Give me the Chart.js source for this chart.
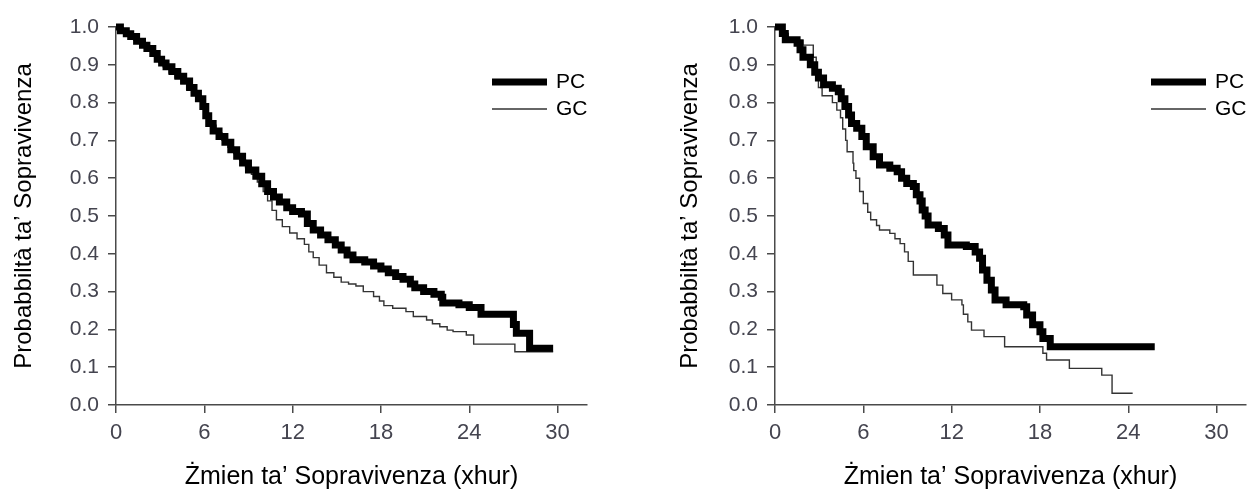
<!DOCTYPE html>
<html>
<head>
<meta charset="utf-8">
<title>Probabbiltà ta' Sopravivenza</title>
<script src="https://cdn.jsdelivr.net/npm/chart.js@4.4.1/dist/chart.umd.min.js"></script>
<style>
    html, body { margin: 0; padding: 0; background: #fff; }
    #wrap { position: relative; width: 1247px; height: 492px; overflow: hidden; }
    canvas { position: absolute; top: 0; }
    #leftChart { left: 0; }
    #rightChart { left: 620px; }
</style>
</head>
<body>
<div id="wrap">
    <canvas id="leftChart" width="620" height="492"></canvas>
    <canvas id="rightChart" width="627" height="492"></canvas>
</div>
<script>
// axis ticks
const xTicks = [0, 6, 12, 18, 24, 30];
const yTicks = [0, 0.1, 0.2, 0.3, 0.4, 0.5, 0.6, 0.7, 0.8, 0.9, 1.0];
const seriesNames = ['PC', 'GC'];

// left panel - PC (months, survival)
const leftPcTime = [0, 0.3, 0.7, 1.0, 1.4, 1.8, 2.1, 2.5, 2.8, 3.1, 3.4, 3.8, 4.2, 4.6, 5.0, 5.3, 5.6, 5.9, 6.1, 6.3, 6.6, 7.0, 7.4, 7.8, 8.2, 8.6, 9.0, 9.5, 9.9, 10.3, 10.7, 11.1, 11.6, 12.0, 12.6, 13.0, 13.4, 13.9, 14.4, 14.9, 15.3, 15.7, 16.1, 16.9, 17.5, 18.0, 18.5, 19.0, 19.5, 20.0, 20.3, 20.9, 21.6, 22.1, 22.2, 23.3, 24.0, 24.8, 27.0, 27.2, 28.1, 29.7];
const leftPcSurv = [1.0, 0.99, 0.982, 0.975, 0.962, 0.952, 0.943, 0.93, 0.915, 0.905, 0.895, 0.882, 0.87, 0.857, 0.84, 0.825, 0.81, 0.79, 0.765, 0.745, 0.725, 0.71, 0.695, 0.675, 0.658, 0.64, 0.622, 0.605, 0.585, 0.565, 0.55, 0.537, 0.522, 0.512, 0.505, 0.48, 0.463, 0.45, 0.437, 0.423, 0.41, 0.397, 0.384, 0.378, 0.368, 0.36, 0.35, 0.34, 0.333, 0.32, 0.31, 0.30, 0.293, 0.285, 0.27, 0.265, 0.258, 0.24, 0.213, 0.19, 0.15, 0.15];

// left panel - GC
const leftGcTime = [0, 0.4, 0.8, 1.2, 1.6, 2.0, 2.4, 2.8, 3.2, 3.6, 4.0, 4.4, 4.8, 5.2, 5.5, 5.8, 6.1, 6.4, 6.8, 7.2, 7.6, 8.0, 8.4, 8.8, 9.2, 9.6, 10.0, 10.3, 10.6, 10.9, 11.3, 11.8, 12.3, 12.8, 13.1, 13.4, 13.8, 14.3, 14.8, 15.3, 15.8, 16.3, 16.8, 17.5, 17.9, 18.2, 18.8, 19.7, 20.2, 21.1, 21.5, 22.0, 22.5, 22.9, 23.8, 24.3, 27.1, 29.7];
const leftGcSurv = [1.0, 0.99, 0.978, 0.965, 0.955, 0.942, 0.928, 0.91, 0.895, 0.878, 0.865, 0.85, 0.835, 0.82, 0.805, 0.785, 0.76, 0.74, 0.72, 0.70, 0.682, 0.665, 0.648, 0.628, 0.61, 0.59, 0.565, 0.54, 0.515, 0.49, 0.472, 0.455, 0.44, 0.425, 0.405, 0.39, 0.37, 0.35, 0.338, 0.325, 0.32, 0.315, 0.30, 0.287, 0.275, 0.263, 0.256, 0.247, 0.234, 0.225, 0.215, 0.207, 0.198, 0.194, 0.185, 0.161, 0.141, 0.141];

// right panel - PC
const rightPcTime = [0, 0.5, 0.7, 1.5, 1.7, 1.9, 2.4, 2.7, 2.95, 3.3, 3.9, 4.3, 4.5, 4.75, 5.0, 5.2, 5.55, 5.9, 6.2, 6.67, 7.1, 7.8, 8.3, 8.6, 8.95, 9.4, 9.6, 9.85, 10.0, 10.2, 10.4, 11.1, 11.5, 11.75, 13.0, 13.6, 13.9, 14.1, 14.4, 14.7, 14.95, 15.7, 16.9, 17.1, 17.5, 18.0, 18.2, 18.7, 25.8];
const rightPcSurv = [1.0, 0.983, 0.966, 0.957, 0.94, 0.92, 0.90, 0.88, 0.865, 0.847, 0.838, 0.829, 0.81, 0.79, 0.767, 0.745, 0.732, 0.71, 0.683, 0.657, 0.635, 0.626, 0.617, 0.60, 0.586, 0.578, 0.556, 0.54, 0.516, 0.50, 0.476, 0.467, 0.45, 0.423, 0.419, 0.405, 0.388, 0.357, 0.33, 0.304, 0.278, 0.265, 0.26, 0.238, 0.212, 0.194, 0.176, 0.154, 0.154];

// right panel - GC
const rightGcTime = [0, 0.5, 0.9, 1.9, 2.6, 2.8, 2.95, 3.2, 3.9, 4.2, 4.45, 4.6, 4.8, 4.9, 5.3, 5.35, 5.5, 5.75, 6.0, 6.3, 6.5, 6.9, 7.1, 7.8, 8.15, 8.5, 8.8, 9.05, 9.4, 11.0, 11.4, 12.0, 12.7, 12.8, 13.1, 13.35, 14.2, 15.6, 18.2, 18.45, 20.0, 22.2, 22.9, 24.3];
const rightGcSurv = [1.0, 0.983, 0.966, 0.952, 0.92, 0.88, 0.84, 0.818, 0.80, 0.78, 0.76, 0.73, 0.70, 0.67, 0.64, 0.62, 0.60, 0.565, 0.533, 0.51, 0.49, 0.475, 0.463, 0.454, 0.44, 0.427, 0.405, 0.38, 0.344, 0.317, 0.295, 0.278, 0.265, 0.24, 0.22, 0.198, 0.181, 0.154, 0.137, 0.119, 0.097, 0.079, 0.031, 0.031];

const FONT = '"Liberation Sans", Arial, sans-serif';
const TICK_COLOR = '#44444f';
const AXIS_COLOR = '#4a4a4a';

function toPoints(times, surv) {
    return times.map((t, i) => ({ x: t, y: surv[i] }));
}

// legend drawn inside the plot, top right
const plotLegend = {
    id: 'plotLegend',
    afterDatasetsDraw(chart) {
        const { ctx, chartArea } = chart;
        const x0 = chartArea.left + 376;
        chart.data.datasets.forEach((ds, i) => {
            const y = chartArea.top + 55 + i * 27;
            ctx.save();
            ctx.strokeStyle = ds.borderColor;
            ctx.lineWidth = ds.borderWidth;
            ctx.beginPath();
            ctx.moveTo(x0, y);
            ctx.lineTo(x0 + 55, y);
            ctx.stroke();
            ctx.fillStyle = '#000';
            ctx.font = '21px ' + FONT;
            ctx.textBaseline = 'middle';
            ctx.fillText(ds.label, x0 + 64, y);
            ctx.restore();
        });
    }
};

function buildChart(canvasId, pcPoints, gcPoints, axisLeft, titleGap) {
    const ctx = document.getElementById(canvasId).getContext('2d');
    const canvasWidth = ctx.canvas.width;
    return new Chart(ctx, {
        type: 'line',
        data: {
            datasets: [{
                label: seriesNames[0],
                data: pcPoints,
                borderColor: '#000',
                borderWidth: 7,
                stepped: true,
                pointRadius: 0,
                borderJoinStyle: 'miter',
                borderCapStyle: 'butt',
                clip: false
            }, {
                label: seriesNames[1],
                data: gcPoints,
                borderColor: '#333',
                borderWidth: 1.4,
                stepped: true,
                pointRadius: 0,
                borderJoinStyle: 'miter',
                clip: false
            }]
        },
        options: {
            responsive: false,
            devicePixelRatio: 1,
            animation: false,
            layout: {
                padding: { top: 27, right: canvasWidth - axisLeft - 471, bottom: 0, left: 0 }
            },
            plugins: {
                legend: { display: false },
                tooltip: { enabled: false }
            },
            scales: {
                x: {
                    type: 'linear',
                    min: 0,
                    max: 32,
                    afterBuildTicks: (scale) => { scale.ticks = xTicks.map(v => ({ value: v })); },
                    afterFit: (scale) => { scale.height = 87; },
                    grid: { drawOnChartArea: false, drawTicks: true, tickLength: 8, color: AXIS_COLOR, lineWidth: 1.5 },
                    border: { display: true, color: AXIS_COLOR, width: 1.5 },
                    ticks: { color: TICK_COLOR, font: { family: FONT, size: 22 }, padding: 7, maxRotation: 0 },
                    title: {
                        display: true,
                        text: 'Żmien ta’ Sopravivenza (xhur)',
                        color: '#000',
                        font: { family: FONT, size: 25 },
                        padding: { top: 0, bottom: 0 }
                    }
                },
                y: {
                    type: 'linear',
                    min: 0,
                    max: 1,
                    afterBuildTicks: (scale) => { scale.ticks = yTicks.map(v => ({ value: v })); },
                    afterFit: (scale) => { scale.width = axisLeft; },
                    grid: { drawOnChartArea: false, drawTicks: true, tickLength: 8, color: AXIS_COLOR, lineWidth: 1.5 },
                    border: { display: true, color: AXIS_COLOR, width: 1.5 },
                    ticks: {
                        color: TICK_COLOR,
                        font: { family: FONT, size: 21 },
                        padding: 9,
                        callback: (v) => v.toFixed(1)
                    },
                    title: {
                        display: true,
                        text: 'Probabbiltà ta’ Sopravivenza',
                        color: '#000',
                        font: { family: FONT, size: 24 },
                        padding: { top: titleGap, bottom: 0 }
                    }
                }
            }
        },
        plugins: [plotLegend]
    });
}

buildChart('leftChart', toPoints(leftPcTime, leftPcSurv), toPoints(leftGcTime, leftGcSurv), 116, 10);
buildChart('rightChart', toPoints(rightPcTime, rightPcSurv), toPoints(rightGcTime, rightGcSurv), 155, 56);
</script>
</body>
</html>
